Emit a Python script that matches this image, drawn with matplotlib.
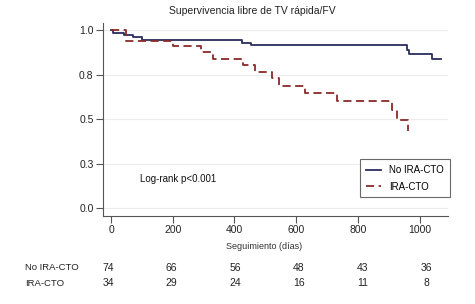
import numpy as np
import matplotlib
matplotlib.use('Agg')
import matplotlib.pyplot as plt

plt.rcParams['font.family'] = ['Liberation Sans', 'DejaVu Sans']

# ----- Kaplan-Meier steps -----
t_no = [0, 6, 42, 72, 100, 424, 454, 958, 967, 1042, 1069]
s_no = [1.0, 0.987, 0.972, 0.962, 0.944, 0.929, 0.916, 0.890, 0.869, 0.837, 0.837]

t_ira = [0, 48, 202, 291, 329, 427, 467, 521, 545, 629, 731, 912, 926, 964]
s_ira = [1.0, 0.941, 0.910, 0.875, 0.837, 0.807, 0.767, 0.729, 0.687, 0.648, 0.603, 0.551, 0.494, 0.434]

# ----- numbers at risk -----
risk_times = [0, 200, 400, 600, 800, 1000]
risk_no = [74, 66, 56, 48, 43, 36]
risk_ira = [34, 29, 24, 16, 11, 8]

y_ticks = [0, 0.25, 0.5, 0.75, 1.0]
y_labels = ['0.0', '0.3', '0.5', '0.8', '1.0']

c_no = '#2b2d5e'
c_ira = '#8b2a2a'

W, H = 475, 304
fig = plt.figure(figsize=(4.75, 3.04), dpi=100)
ax = fig.add_axes([0.2175, 0.2905, 0.7255, 0.6335])

ax.step(t_no, s_no, where='post', color=c_no, lw=1.3, label='No IRA-CTO')
ax.step(t_ira, s_ira, where='post', color=c_ira, lw=1.3, linestyle=(0, (4.5, 2.5)), label='IRA-CTO')

ax.set_xlim(-25, 1092)
ax.set_ylim(-0.043, 1.04)
ax.set_xticks(risk_times)
ax.set_yticks(y_ticks)
ax.set_yticklabels(y_labels)
ax.yaxis.grid(True, color='#ececec', lw=0.8)
ax.set_axisbelow(True)

for s in ['top', 'right']:
    ax.spines[s].set_visible(False)
for s in ['left', 'bottom']:
    ax.spines[s].set_color('#555555')
    ax.spines[s].set_linewidth(0.8)
ax.tick_params(colors='#555555', labelcolor='#222222', labelsize=7.5, length=5, width=0.8)
ax.tick_params(axis='x', pad=2)
ax.tick_params(axis='y', pad=2)

ax.set_xlabel('Seguimiento (días)', fontsize=6.5, color='#333333')
ax.xaxis.set_label_coords((264 - 103.3) / 344.7, -0.135)
fig.text(252 / W, 1 - 11 / H, 'Supervivencia libre de TV rápida/FV', fontsize=7.5,
         color='#222222', ha='center', va='center')

ax.text(95, 0.163, 'Log-rank p<0.001', fontsize=7, color='#111111', va='center')

leg = ax.legend(loc='lower right', bbox_to_anchor=(1.005, 0.095), fontsize=7, frameon=True,
                fancybox=False, edgecolor='#444444', handlelength=1.6, borderpad=0.6,
                labelspacing=0.65, handletextpad=0.8, borderaxespad=0)
leg.get_frame().set_linewidth(0.8)

# numbers at risk table (columns sit slightly wider apart than the ticks)
for i, (n1, n2) in enumerate(zip(risk_no, risk_ira)):
    xf = (108 + i * 63.6) / W
    fig.text(xf, 1 - 268 / H, str(n1), ha='center', va='center', fontsize=7.5, color='#222222')
    fig.text(xf, 1 - 283 / H, str(n2), ha='center', va='center', fontsize=7.5, color='#222222')
fig.text(25 / W, 1 - 268 / H, 'No IRA-CTO', fontsize=6.8, va='center', color='#222222')
fig.text(25 / W, 1 - 283 / H, 'IRA-CTO', fontsize=6.8, va='center', color='#222222')

fig.savefig('out.png', dpi=100)
